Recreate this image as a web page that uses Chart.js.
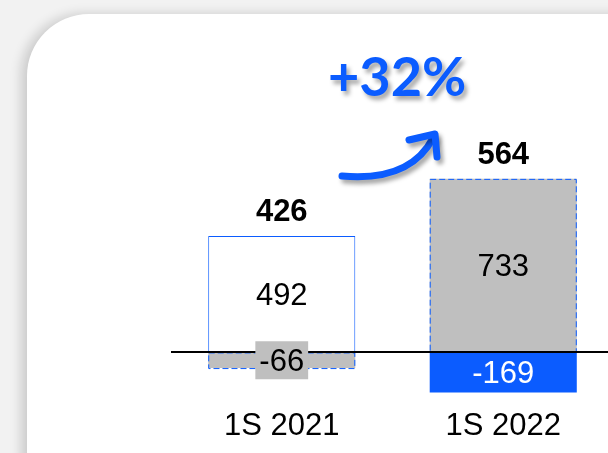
<!DOCTYPE html>
<html>
<head>
<meta charset="utf-8">
<script src="https://cdn.jsdelivr.net/npm/chart.js@4"></script>
<style>
html, body { margin: 0; padding: 0; width: 608px; height: 453px; overflow: hidden; background: #f2f2f2; }
#card { position: absolute; left: 27px; top: 14px; width: 660px; height: 500px; background: #fff; border-radius: 62px; box-shadow: -6px 0 12px rgba(0,0,0,0.16); }
#chart { position: absolute; left: 0; top: 0; }
</style>
</head>
<body>
<div id="card"></div>
<canvas id="chart" width="620" height="453"></canvas>
<script>
// dados
const categories = ['1S 2021', '1S 2022'];
const whitePart = [492, null];
const grayPart = [-66, 733];
const bluePart = [null, -169];
const totals = [426, 564];
const growth = '+32%';

const BLUE = '#0b5cff';
const GRAY = '#bfbfbf';
const FONT = '"Liberation Sans", Arial, sans-serif';

const labelsPlugin = {
    id: 'labels',
    afterDatasetsDraw(chart) {
        const ctx = chart.ctx;
        const y = chart.scales.y;
        const area = chart.chartArea;
        ctx.save();

        // contorno tracejado das barras cinzas
        chart.getDatasetMeta(1).data.forEach(bar => {
            const left = bar.x - bar.width / 2;
            const top = Math.min(bar.y, bar.base);
            const h = Math.abs(bar.base - bar.y);
            ctx.setLineDash([6, 3]);
            ctx.strokeStyle = BLUE;
            ctx.lineWidth = 1;
            ctx.strokeRect(left + 0.5, top + 0.5, bar.width - 1, h);
        });
        ctx.setLineDash([]);

        // linha do zero
        const y0 = Math.round(y.getPixelForValue(0));
        ctx.strokeStyle = '#000';
        ctx.lineWidth = 2;
        ctx.beginPath();
        ctx.moveTo(area.left, y0);
        ctx.lineTo(chart.width, y0);
        ctx.stroke();

        // valores dentro das barras
        ctx.font = '31px ' + FONT;
        ctx.textAlign = 'center';
        ctx.textBaseline = 'middle';
        chart.data.datasets.forEach((ds, di) => {
            chart.getDatasetMeta(di).data.forEach((bar, i) => {
                const v = ds.data[i];
                if (v === null || v === undefined) return;
                const cy = (bar.y + bar.base) / 2;
                const txt = String(v);
                const h = Math.abs(bar.base - bar.y);
                if (h < 30) {
                    const w = ctx.measureText(txt).width + 8;
                    ctx.fillStyle = GRAY;
                    ctx.fillRect(bar.x - w / 2, cy - 19, w, 38);
                }
                ctx.fillStyle = ds.labelColor;
                ctx.fillText(txt, bar.x, cy + 2);
            });
        });

        // totais
        ctx.font = 'bold 31px ' + FONT;
        ctx.fillStyle = '#000';
        const meta0 = chart.getDatasetMeta(0);
        totals.forEach((t, i) => {
            const x = meta0.data[i].x;
            const top = Math.min(y.getPixelForValue(Math.max(whitePart[i] || 0, grayPart[i] || 0)), y.getPixelForValue(0));
            ctx.fillText(String(t), x, top - 23);
        });

        // seta e percentual
        ctx.shadowColor = 'rgba(0,0,0,0.35)';
        ctx.shadowOffsetX = 3;
        ctx.shadowOffsetY = 4;
        ctx.shadowBlur = 4;
        ctx.strokeStyle = BLUE;
        ctx.lineWidth = 7;
        ctx.lineCap = 'round';
        ctx.lineJoin = 'round';
        ctx.beginPath();
        ctx.moveTo(342, 176);
        ctx.quadraticCurveTo(410, 182, 433, 138);
        ctx.stroke();
        ctx.beginPath();
        ctx.moveTo(409, 140);
        ctx.lineTo(435, 134);
        ctx.lineTo(437, 157);
        ctx.stroke();

        ctx.font = 'bold 54px "Comic Sans MS", Lato, sans-serif';
        ctx.fillStyle = BLUE;
        ctx.textAlign = 'left';
        ctx.textBaseline = 'alphabetic';
        ctx.fillText(growth, 328, 96);
        ctx.restore();
    }
};

new Chart(document.getElementById('chart'), {
    type: 'bar',
    data: {
        labels: categories,
        datasets: [
            { data: whitePart, backgroundColor: '#fff', borderColor: BLUE, borderWidth: 1, labelColor: '#000' },
            { data: grayPart, backgroundColor: GRAY, borderWidth: 0, labelColor: '#000' },
            { data: bluePart, backgroundColor: BLUE, borderWidth: 0, labelColor: '#fff' }
        ]
    },
    options: {
        responsive: false,
        animation: false,
        barPercentage: 0.664,
        categoryPercentage: 1,
        layout: { padding: { left: 171, right: 6, top: 163, bottom: 0 } },
        plugins: { legend: { display: false }, tooltip: { enabled: false } },
        scales: {
            x: {
                stacked: true,
                grid: { display: false, drawTicks: false },
                border: { display: false },
                ticks: { padding: 8, color: '#000', font: { family: FONT, size: 31 } }
            },
            y: { stacked: true, display: false, min: -200, max: 800 }
        }
    },
    plugins: [labelsPlugin]
});
</script>
</body>
</html>
